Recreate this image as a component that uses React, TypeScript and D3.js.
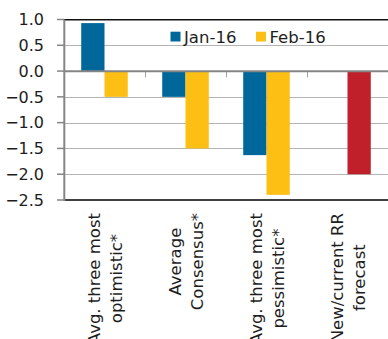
import React, { useEffect, useRef } from "react";
import * as d3 from "d3";

// Category labels, one entry per line of the rotated label
const categories: string[][] = [
  ["Avg. three most", "optimistic*"],
  ["Average", "Consensus*"],
  ["Avg. three most", "pessimistic*"],
  ["New/current RR", "forecast"],
];
const seriesNames = ["Jan-16", "Feb-16"];
const jan16: (number | null)[] = [0.93, -0.5, -1.63, null];
const feb16: (number | null)[] = [-0.5, -1.5, -2.4, -2.0];
const yTicks = [1.0, 0.5, 0.0, -0.5, -1.0, -1.5, -2.0, -2.5];
// The RR forecast point is shown in its own colour
const highlightIndex = 3;

const COLORS = { "Jan-16": "#00679b", "Feb-16": "#fdbf13", highlight: "#c0202a" };
const FONT = "'DejaVu Sans', sans-serif";

const W = 388;
const H = 339;
const left = 64;
const right = 388;
const top = 19.5;
const bottom = 200;

export default function App() {
  const ref = useRef<SVGSVGElement | null>(null);

  useEffect(() => {
    const svg = d3.select(ref.current);
    svg.selectAll("*").remove();

    const ids = categories.map((_, i) => String(i));
    const x = d3.scaleBand<string>().domain(ids).range([left, right]).padding(0);
    const xs = d3
      .scaleBand<string>()
      .domain(seriesNames)
      .range([0, x.bandwidth()])
      .paddingInner(0)
      .paddingOuter(0.74);
    const y = d3.scaleLinear().domain([-2.5, 1]).range([bottom, top]);

    // light gridlines
    svg
      .append("g")
      .selectAll("line")
      .data(yTicks.filter((t) => t !== 1 && t !== 0 && t !== -2.5))
      .join("line")
      .attr("x1", left)
      .attr("x2", right)
      .attr("y1", (d) => Math.round(y(d)) + 0.5)
      .attr("y2", (d) => Math.round(y(d)) + 0.5)
      .attr("stroke", "#b4b4b4")
      .attr("stroke-width", 1);

    // bars
    const rows = categories.map((_, i) => ({
      id: String(i),
      values: [
        { s: "Jan-16", v: jan16[i] },
        { s: "Feb-16", v: feb16[i] },
      ],
    }));
    const groups = svg
      .append("g")
      .selectAll("g")
      .data(rows)
      .join("g")
      .attr("transform", (d) => `translate(${x(d.id)},0)`);
    groups
      .selectAll("rect")
      .data((d, i) => d.values.filter((p) => p.v !== null).map((p) => ({ ...p, i })))
      .join("rect")
      .attr("x", (d) => xs(d.s)!)
      .attr("width", xs.bandwidth())
      .attr("y", (d) => y(Math.max(0, d.v as number)))
      .attr("height", (d) => Math.abs(y(d.v as number) - y(0)))
      .attr("fill", (d) =>
        d.s === "Feb-16" && d.i === highlightIndex ? COLORS.highlight : (COLORS as any)[d.s]
      );

    // plot frame top and bottom
    svg
      .append("line")
      .attr("x1", left)
      .attr("x2", right)
      .attr("y1", 19.7)
      .attr("y2", 19.7)
      .attr("stroke", "#111")
      .attr("stroke-width", 1.5);
    svg
      .append("line")
      .attr("x1", left)
      .attr("x2", right)
      .attr("y1", y(-2.5))
      .attr("y2", y(-2.5))
      .attr("stroke", "#404040")
      .attr("stroke-width", 2);

    // zero line with category tick marks
    const y0 = y(0) + 0.3;
    svg
      .append("g")
      .selectAll("line")
      .data(ids.slice(1))
      .join("line")
      .attr("x1", (d) => Math.round(x(d)!) + 0.5)
      .attr("x2", (d) => Math.round(x(d)!) + 0.5)
      .attr("y1", y0)
      .attr("y2", y0 + 6)
      .attr("stroke", "#a0a0a0")
      .attr("stroke-width", 1);
    svg
      .append("line")
      .attr("x1", left)
      .attr("x2", right)
      .attr("y1", y0)
      .attr("y2", y0)
      .attr("stroke", "#858585")
      .attr("stroke-width", 2);

    // value axis
    const ax = svg.append("g");
    ax.append("line")
      .attr("x1", left + 0.3)
      .attr("x2", left + 0.3)
      .attr("y1", top)
      .attr("y2", bottom + 1)
      .attr("stroke", "#858585")
      .attr("stroke-width", 2);
    ax.selectAll("line.tick")
      .data(yTicks)
      .join("line")
      .attr("class", "tick")
      .attr("x1", 57)
      .attr("x2", left)
      .attr("y1", (d) => y(d))
      .attr("y2", (d) => y(d))
      .attr("stroke", "#858585")
      .attr("stroke-width", 1.5);
    ax.selectAll("text")
      .data(yTicks)
      .join("text")
      .attr("x", 44)
      .attr("y", (d) => y(d))
      .attr("dy", "0.36em")
      .attr("text-anchor", "end")
      .attr("font-family", FONT)
      .attr("font-size", 16)
      .attr("fill", "#1e1e1e")
      .text((d) => d3.format(".1f")(d));

    // rotated category labels, lines centred within each block
    const lineOffsets = [-5, 17.5];
    const labelTop = 213;
    categories.forEach((lines, i) => {
      const cx = x(String(i))! + x.bandwidth() / 2;
      const g = svg.append("g");
      const texts = lines.map((line, j) =>
        g
          .append("text")
          .attr("font-family", FONT)
          .attr("font-size", 16.5)
          .attr("fill", "#1e1e1e")
          .attr("text-anchor", "middle")
          .text(line)
      );
      const maxLen = d3.max(texts, (t) => (t.node() as SVGTextElement).getComputedTextLength()) || 0;
      texts.forEach((t, j) =>
        t.attr("transform", `translate(${cx + lineOffsets[j]},${labelTop + maxLen / 2}) rotate(-90)`)
      );
    });

    // legend
    const legendPos = [
      { s: "Jan-16", x: 170.5 },
      { s: "Feb-16", x: 256 },
    ];
    const lg = svg.append("g");
    legendPos.forEach((p) => {
      lg.append("rect")
        .attr("x", p.x)
        .attr("y", 31.7)
        .attr("width", 10)
        .attr("height", 9.8)
        .attr("fill", (COLORS as any)[p.s]);
      lg.append("text")
        .attr("x", p.x + 13.5)
        .attr("y", 43)
        .attr("font-family", FONT)
        .attr("font-size", 16.5)
        .attr("fill", "#1e1e1e")
        .text(p.s);
    });
  }, []);

  return (
    <svg
      ref={ref}
      width={W}
      height={H}
      style={{ position: "absolute", left: 0, top: 0, background: "#fff" }}
    />
  );
}
